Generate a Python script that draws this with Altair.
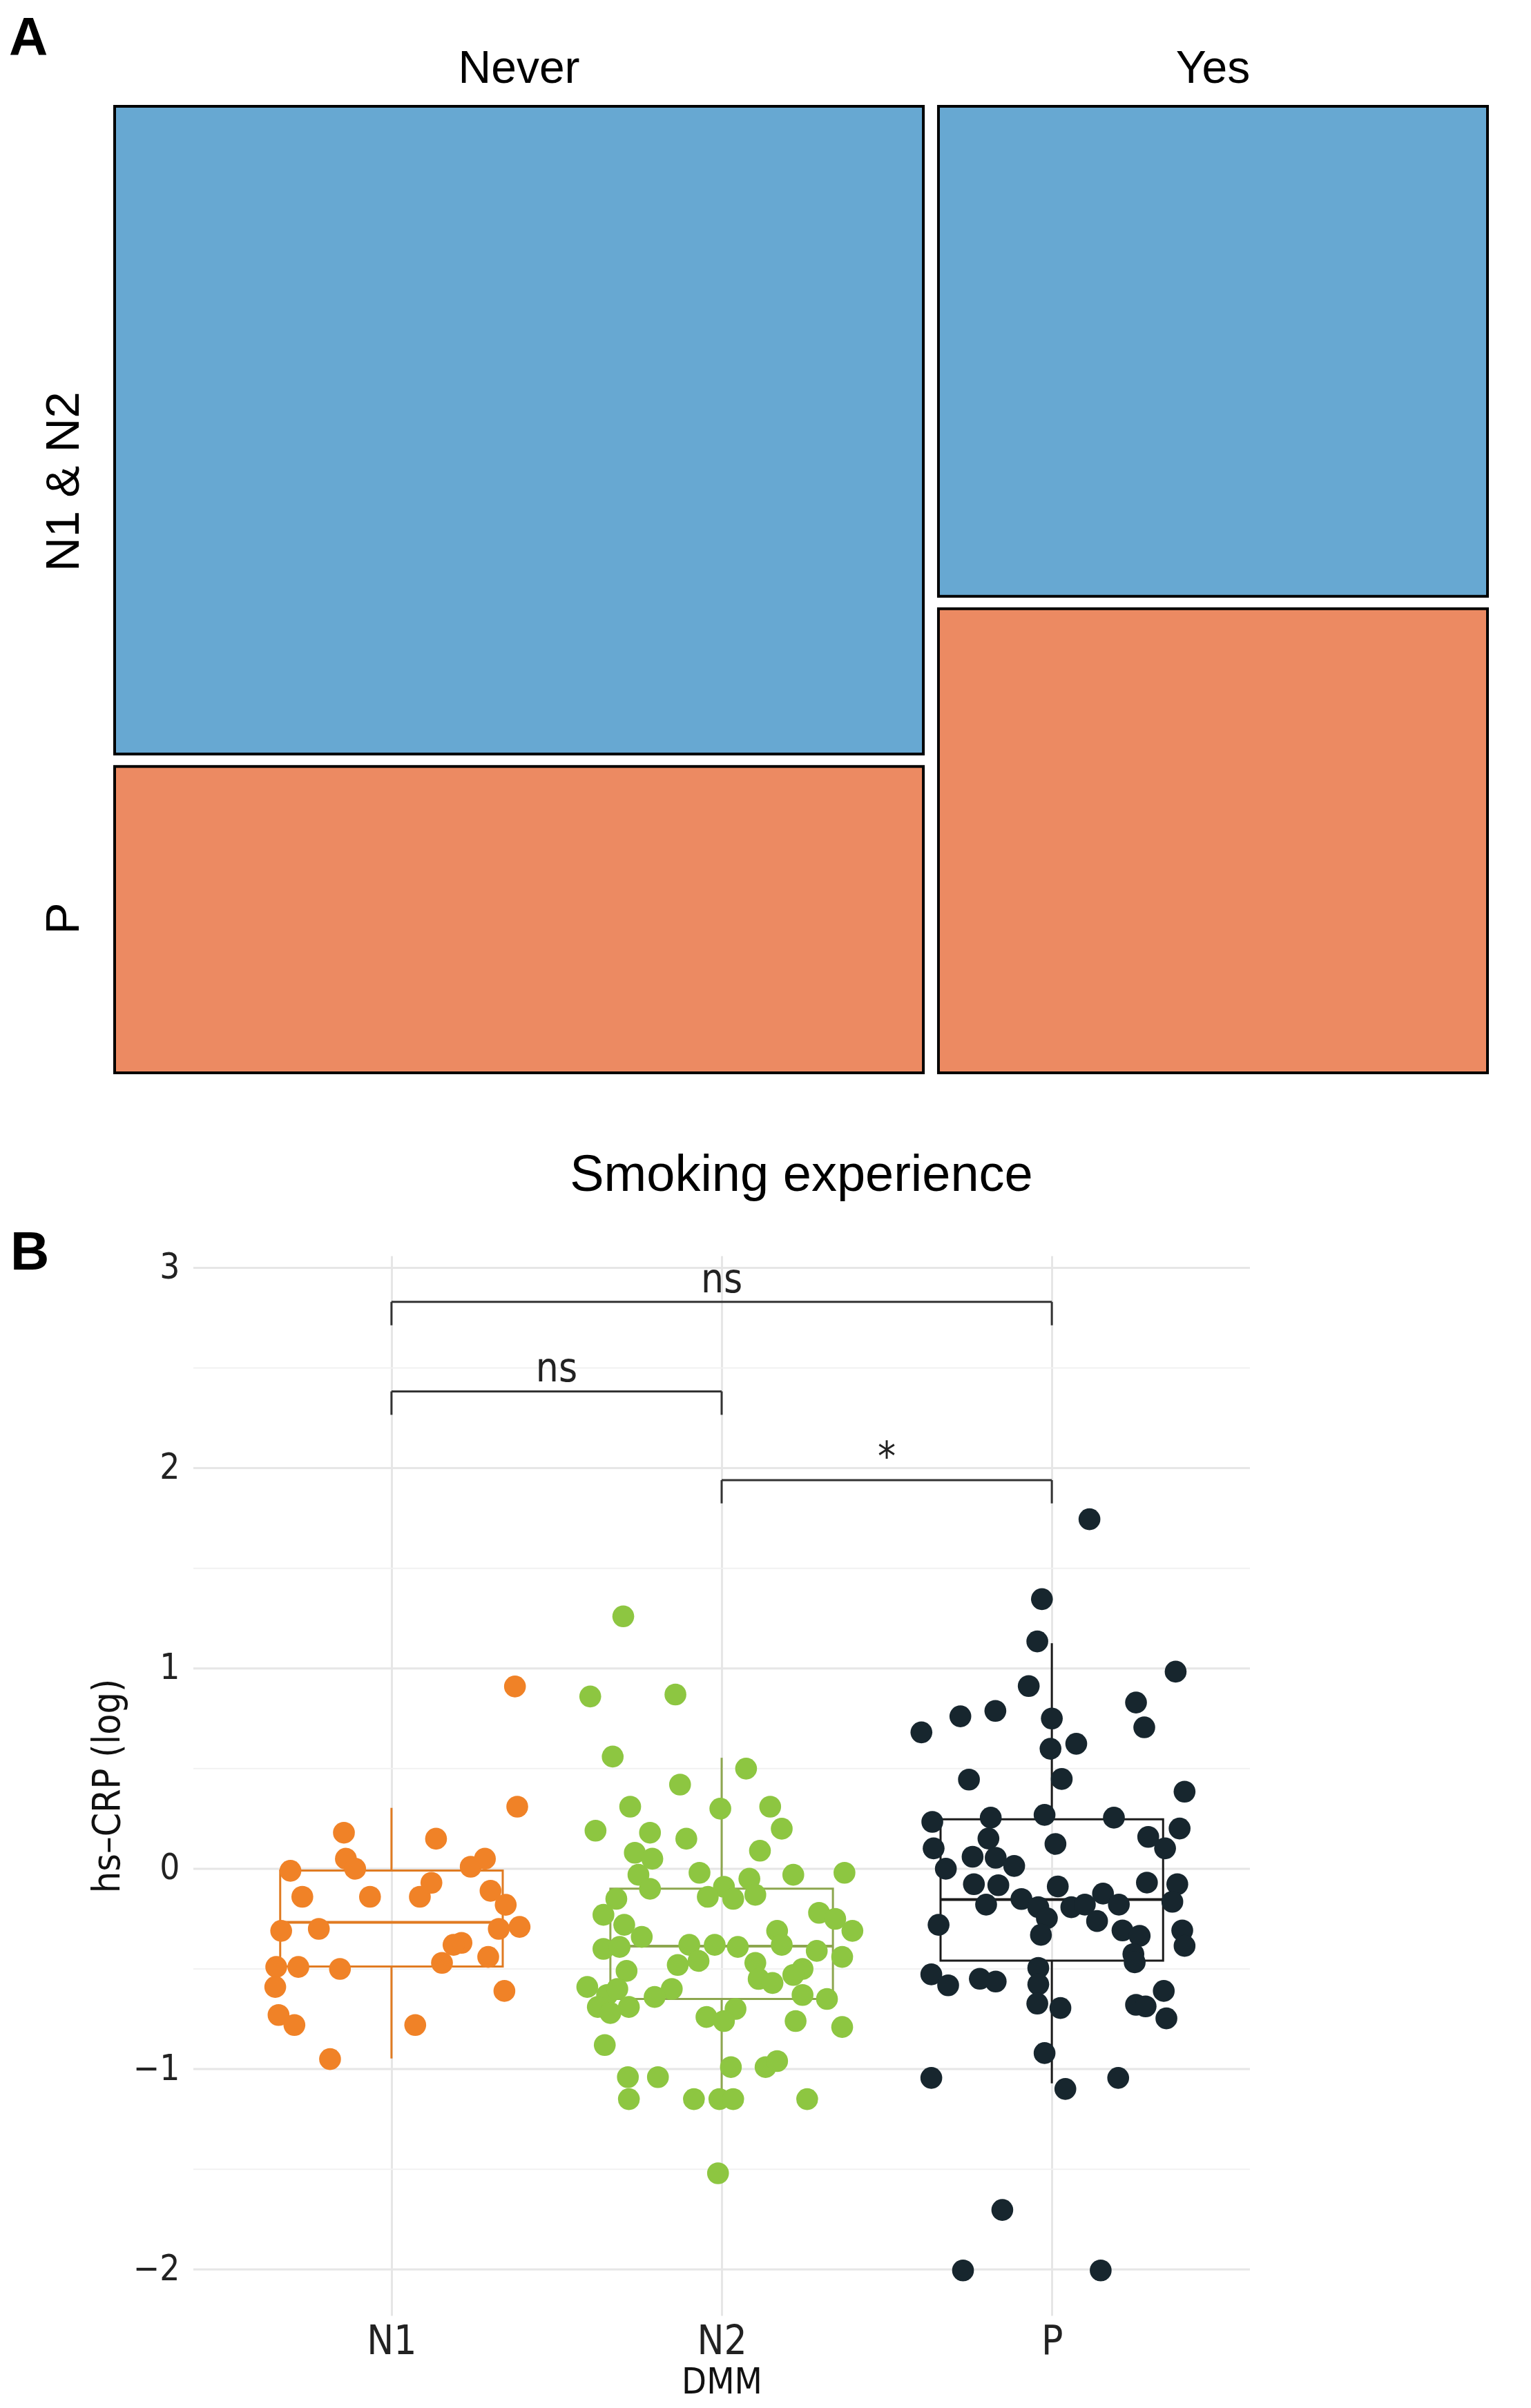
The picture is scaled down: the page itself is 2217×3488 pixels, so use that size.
import altair as alt
import pandas as pd

# ---------------- Panel A data (mosaic) ----------------
smoking = ["Never", "Yes"]
dmm_a = ["N1 & N2", "P"]
count_never = [74, 35]
count_yes = [38, 36]
ylab_pos = [0.612, 0.16]          # where the row labels sit on the y axis
mosaic_colors = ["#67A8D2", "#EC8A62"]

# ---------------- Panel B data ----------------
groups = ["N1", "N2", "P"]
point_colors = ["#F08227", "#8DC641", "#17262E"]
box_colors = ["#E07B22", "#8DA64F", "#1B1B1B"]

n1_val = [0.91, 0.31, 0.18, 0.15, 0.05, 0.00, -0.01, 0.01, 0.05, -0.14, -0.14, -0.14, -0.07,
          -0.11, -0.18, -0.29, -0.30, -0.31, -0.30, -0.37, -0.38, -0.44, -0.47, -0.49, -0.50,
          -0.49, -0.59, -0.73, -0.78, -0.78, -0.95, -0.61]
n1_jit = [0.374, 0.381, -0.144, 0.135, -0.138, -0.110, -0.306, 0.240, 0.283, -0.270, -0.065,
          0.086, 0.121, 0.300, 0.346, 0.388, 0.325, -0.334, -0.220, 0.212, 0.188, 0.293, 0.153,
          -0.282, -0.156, -0.349, -0.352, -0.342, -0.294, 0.072, -0.186, 0.342]

n2_val = [1.26, 0.86, 0.87, 0.56, 0.50, 0.42, 0.31, 0.30, 0.31, 0.19, 0.18, 0.15, 0.20, 0.09,
          0.08, 0.05, -0.03, -0.02, -0.03, -0.02, -0.10, -0.09, -0.05, -0.14, -0.15, -0.13,
          -0.15, -0.23, -0.22, -0.25, -0.31, -0.28, -0.31, -0.34, -0.40, -0.39, -0.38, -0.38,
          -0.39, -0.38, -0.41, -0.44, -0.48, -0.46, -0.47, -0.50, -0.51, -0.55, -0.53, -0.57,
          -0.59, -0.60, -0.63, -0.60, -0.64, -0.63, -0.65, -0.69, -0.69, -0.72, -0.74, -0.70,
          -0.76, -0.76, -0.79, -0.88, -1.04, -1.04, -0.99, -0.99, -0.96, -1.15, -1.15, -1.15,
          -1.15, -1.15, -1.52]
n2_jit = [-0.298, -0.398, -0.140, -0.330, 0.074, -0.126, -0.277, -0.004, 0.147, -0.382, -0.217,
          -0.107, 0.182, 0.116, -0.263, -0.210, -0.252, -0.067, 0.217, 0.372, -0.217, 0.007,
          0.084, -0.042, 0.035, 0.102, -0.319, -0.358, 0.295, 0.344, 0.396, -0.295, 0.168,
          -0.242, -0.358, -0.309, -0.098, -0.021, 0.049, 0.182, 0.288, 0.365, -0.133, -0.070,
          0.102, 0.245, -0.288, 0.112, 0.217, 0.154, -0.407, -0.151, -0.347, -0.316, -0.203,
          0.245, 0.319, -0.375, -0.281, -0.337, -0.046, 0.042, 0.007, 0.224, 0.365, -0.354,
          -0.284, -0.193, 0.028, 0.133, 0.168, -0.281, -0.084, -0.007, 0.035, 0.259, -0.011]

p_val = [1.745, 1.346, 1.135, 0.984, 0.912, 0.830, 0.761, 0.788, 0.750, 0.681, 0.706, 0.599,
         0.624, 0.445, 0.448, 0.385, 0.234, 0.255, 0.269, 0.255, 0.201, 0.102, 0.151, 0.124,
         0.159, 0.102, 0.000, 0.060, 0.055, 0.014, -0.077, -0.082, -0.088, -0.069, -0.077,
         -0.179, -0.151, -0.192, -0.192, -0.179, -0.124, -0.179, -0.165, -0.247, -0.261,
         -0.280, -0.330, -0.308, -0.335, -0.308, -0.385, -0.426, -0.467, -0.527, -0.582,
         -0.549, -0.563, -0.495, -0.577, -0.673, -0.695, -0.679, -0.687, -0.610, -0.747,
         -0.920, -1.044, -1.044, -1.099, -1.703, -2.005, -2.005]
p_jit = [0.114, -0.030, -0.044, 0.375, -0.070, 0.255, -0.277, -0.171, 0.000, -0.395, 0.280,
         -0.004, 0.074, -0.251, 0.030, 0.402, -0.362, -0.185, -0.022, 0.188, 0.387, -0.358,
         -0.192, 0.011, 0.292, 0.343, -0.321, -0.240, -0.170, -0.114, -0.236, -0.162, 0.018,
         0.288, 0.380, -0.199, -0.092, -0.041, 0.059, 0.100, 0.155, 0.203, 0.365, -0.015,
         0.137, -0.343, -0.033, 0.214, 0.266, 0.395, 0.402, 0.247, 0.251, -0.365, -0.314,
         -0.218, -0.170, -0.041, -0.041, -0.044, 0.026, 0.255, 0.284, 0.339, 0.347, -0.022,
         -0.365, 0.201, 0.041, -0.150, -0.269, 0.148]

box_q1 = [-0.488, -0.650, -0.459]
box_med = [-0.267, -0.386, -0.154]
box_q3 = [-0.009, -0.099, 0.247]
box_lo = [-0.947, -1.150, -1.071]
box_hi = [0.304, 0.554, 1.126]

brk_from = [1, 1, 2]
brk_to = [3, 2, 3]
brk_y = [2.83, 2.383, 1.94]
brk_low = [2.713, 2.266, 1.824]
brk_label = ["ns", "ns", "*"]

y_ticks = [-2, -1, 0, 1, 2, 3]
y_minor = [-1.5, -0.5, 0.5, 1.5, 2.5]
x_range_b = [0.4, 3.6]          # plotted category range of panel B

panel_letters = ["A", "B"]

FONT_A = "Liberation Sans"
FONT_B = "DejaVu Sans Condensed, DejaVu Sans"

# ---------------- Panel A ----------------
gap_x = 0.011
gap_y = 0.0129
all_counts = [count_never, count_yes]
grand = sum(sum(c) for c in all_counts)
rows = []
centers = []
x0 = 0.0
for s, cts in zip(smoking, all_counts):
    tot = sum(cts)
    w = tot / grand * (1 - gap_x)
    fp = cts[1] / tot * (1 - gap_y)
    rows.append(dict(smoke=s, grp=dmm_a[1], x=x0, x2=x0 + w, y=0.0, y2=fp))
    rows.append(dict(smoke=s, grp=dmm_a[0], x=x0, x2=x0 + w, y=fp + gap_y, y2=1.0))
    centers.append(x0 + w / 2)
    x0 += w + gap_x
mosaic = pd.DataFrame(rows)
col_lab = pd.DataFrame({"smoke": smoking, "xc": centers})

mid_lab = (ylab_pos[0] + ylab_pos[1]) / 2
ylab_expr = f"datum.value > {mid_lab} ? '{dmm_a[0]}' : '{dmm_a[1]}'"

xa = alt.Scale(domain=[0, 1], nice=False, zero=False)
ya = alt.Scale(domain=[0, 1], nice=False, zero=False)

rects = alt.Chart(mosaic).mark_rect(stroke="black", strokeWidth=4).encode(
    x=alt.X("x:Q", scale=xa, axis=alt.Axis(labels=False, ticks=False, domain=False, grid=False,
                                           title="Smoking experience", titleFontSize=74,
                                           titleFont=FONT_A, titleFontWeight="normal",
                                           titleColor="black", titlePadding=112)),
    x2="x2:Q",
    y=alt.Y("y:Q", scale=ya, axis=alt.Axis(values=ylab_pos, labelExpr=ylab_expr, labelAngle=270,
                                           labelAlign="center", labelBaseline="alphabetic",
                                           labelPadding=53, labelFontSize=69, labelFont=FONT_A,
                                           labelColor="black", labelLimit=800, ticks=False,
                                           domain=False, grid=False, title=None)),
    y2="y2:Q",
    color=alt.Color("grp:N", scale=alt.Scale(domain=dmm_a, range=mosaic_colors), legend=None),
)

col_text = alt.Chart(col_lab).mark_text(fontSize=66, font=FONT_A, baseline="alphabetic",
                                         align="center", color="black").encode(
    x=alt.X("xc:Q", scale=xa), y=alt.value(-34), text="smoke:N")

letter_a = alt.Chart(pd.DataFrame({"t": [panel_letters[0]]})).mark_text(
    fontSize=78, fontWeight="bold", font=FONT_A, align="left", baseline="alphabetic",
    color="black").encode(x=alt.value(-153), y=alt.value(-74), text="t:N")

panel_a = alt.layer(rects, col_text, letter_a).properties(width=1988, height=1400)

# ---------------- Panel B ----------------
# the plot area of B starts at the same left edge as A; the axis is shifted inward
axis_shift = 114
core_w = 1530
step = core_w / (x_range_b[1] - x_range_b[0])
x_lo = x_range_b[0] - axis_shift / step

gidx = {g: i + 1 for i, g in enumerate(groups)}
pts = []
for g, vals, jits in [("N1", n1_val, n1_jit), ("N2", n2_val, n2_jit), ("P", p_val, p_jit)]:
    for v, j in zip(vals, jits):
        pts.append(dict(g=g, x=gidx[g] + j, v=v))
pts = pd.DataFrame(pts)

box_half = 0.337
box_df = pd.DataFrame({"g": groups, "idx": [gidx[g] for g in groups], "q1": box_q1,
                       "med": box_med, "q3": box_q3, "lo": box_lo, "hi": box_hi})
box_df["left"] = box_df["idx"] - box_half
box_df["right"] = box_df["idx"] + box_half

brk = pd.DataFrame({"a": brk_from, "b": brk_to, "y": brk_y, "ylow": brk_low, "lab": brk_label})
brk["mid"] = (brk["a"] + brk["b"]) / 2
tips = pd.DataFrame([dict(x=xx, y=r.y, ylow=r.ylow) for r in brk.itertuples() for xx in (r.a, r.b)])
grid_major = pd.DataFrame({"v": y_ticks, "x0": x_range_b[0], "x1": x_range_b[1]})
grid_minor = pd.DataFrame({"v": y_minor, "x0": x_range_b[0], "x1": x_range_b[1]})

xb = alt.Scale(domain=[x_lo, x_range_b[1]], nice=False, zero=False)
yb = alt.Scale(domain=[-2.23, 3.06], nice=False, zero=False)
labels_js = "[" + ",".join(f"'{g}'" for g in groups) + "]"

x_axis = alt.Axis(values=list(range(1, len(groups) + 1)), labelExpr=f"{labels_js}[datum.value - 1]",
                  labelFontSize=58, labelFont=FONT_B, labelColor="#222222", labelPadding=9,
                  ticks=False, domain=False, grid=True, gridColor="#e6e6e6", gridWidth=3,
                  title="DMM", titleFontSize=52, titleFont=FONT_B, titleFontWeight="normal",
                  titleColor="#111111", titlePadding=4, titleX=axis_shift + core_w / 2)
y_axis = alt.Axis(values=y_ticks,
                  labelExpr="datum.value < 0 ? '\u2212' + format(abs(datum.value), 'd') : format(datum.value, 'd')",
                  labelFontSize=51, labelFont=FONT_B, labelColor="#222222", labelPadding=20,
                  ticks=False, domain=False, grid=False, offset=-axis_shift,
                  title="hs\u2013CRP (log)", titleFontSize=55, titleFont=FONT_B,
                  titleFontWeight="normal", titleColor="#111111", titlePadding=8)

stroke_scale = alt.Scale(domain=groups, range=box_colors)

major_rule = alt.Chart(grid_major).mark_rule(color="#e6e6e6", strokeWidth=3).encode(
    x=alt.X("x0:Q", scale=xb, axis=x_axis), x2="x1:Q", y=alt.Y("v:Q", scale=yb, axis=y_axis))
minor_rule = alt.Chart(grid_minor).mark_rule(color="#f1f1f1", strokeWidth=2).encode(
    x=alt.X("x0:Q", scale=xb), x2="x1:Q", y=alt.Y("v:Q", scale=yb))

box_rect = alt.Chart(box_df).mark_rect(fillOpacity=0, strokeWidth=3).encode(
    x=alt.X("left:Q", scale=xb), x2="right:Q",
    y=alt.Y("q1:Q", scale=yb), y2="q3:Q",
    stroke=alt.Stroke("g:N", scale=stroke_scale, legend=None))
whisk_lo = alt.Chart(box_df).mark_rule(strokeWidth=3).encode(
    x=alt.X("idx:Q", scale=xb), y=alt.Y("lo:Q", scale=yb), y2="q1:Q",
    stroke=alt.Stroke("g:N", scale=stroke_scale, legend=None))
whisk_hi = alt.Chart(box_df).mark_rule(strokeWidth=3).encode(
    x=alt.X("idx:Q", scale=xb), y=alt.Y("q3:Q", scale=yb), y2="hi:Q",
    stroke=alt.Stroke("g:N", scale=stroke_scale, legend=None))
median = alt.Chart(box_df).mark_rule(strokeWidth=4).encode(
    x=alt.X("left:Q", scale=xb), x2="right:Q", y=alt.Y("med:Q", scale=yb),
    stroke=alt.Stroke("g:N", scale=stroke_scale, legend=None))

points = alt.Chart(pts).mark_circle(size=1000, opacity=1).encode(
    x=alt.X("x:Q", scale=xb), y=alt.Y("v:Q", scale=yb),
    color=alt.Color("g:N", scale=alt.Scale(domain=groups, range=point_colors), legend=None))

brk_h = alt.Chart(brk).mark_rule(color="#333333", strokeWidth=3).encode(
    x=alt.X("a:Q", scale=xb), x2="b:Q", y=alt.Y("y:Q", scale=yb))
brk_t = alt.Chart(tips).mark_rule(color="#333333", strokeWidth=3).encode(
    x=alt.X("x:Q", scale=xb), y=alt.Y("y:Q", scale=yb), y2="ylow:Q")
brk_txt = alt.Chart(brk).mark_text(fontSize=58, font=FONT_B, baseline="alphabetic",
                                    align="center", color="#222222", dy=-14).encode(
    x=alt.X("mid:Q", scale=xb), y=alt.Y("y:Q", scale=yb), text="lab:N")

letter_b = alt.Chart(pd.DataFrame({"t": [panel_letters[1]]})).mark_text(
    fontSize=78, fontWeight="bold", font=FONT_A, align="left", baseline="alphabetic",
    color="black").encode(x=alt.value(-151), y=alt.value(20), text="t:N")

panel_b = alt.layer(major_rule, minor_rule, box_rect, whisk_lo, whisk_hi, median, points,
                    brk_h, brk_t, brk_txt, letter_b).properties(
    width=axis_shift + core_w, height=1535)

chart = alt.concat(panel_a, panel_b, columns=1, spacing=38, align="none").resolve_scale(
    color="independent").properties(
    padding={"left": 5, "top": 10, "right": 5, "bottom": 5}
).configure(background="white").configure_view(strokeWidth=0)

chart.save("out.html", embed_options={"renderer": "svg", "actions": False})
